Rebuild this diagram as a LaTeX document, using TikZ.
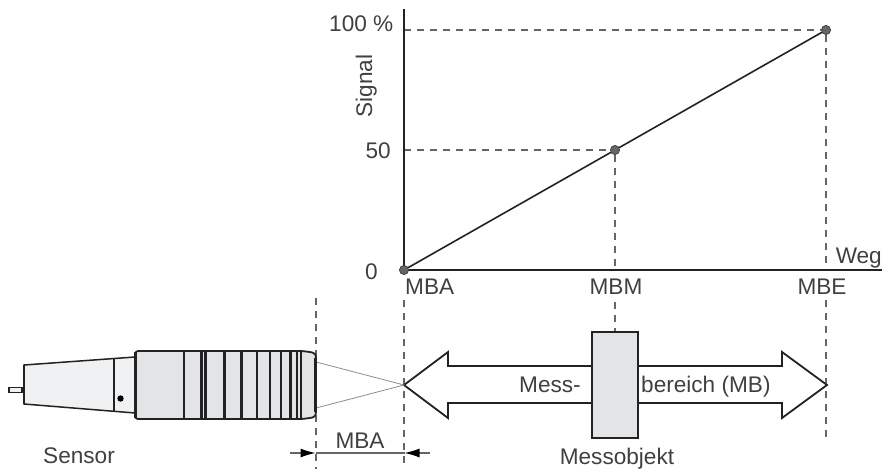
\documentclass[tikz,border=0pt]{standalone}
\usepackage{fontspec}
\setmainfont{Liberation Sans}
\usetikzlibrary{arrows.meta}
\definecolor{txt}{HTML}{404040}
\definecolor{ink}{HTML}{222222}
\definecolor{dashc}{HTML}{666666}
\definecolor{bodyfill}{HTML}{E3E4E5}
\definecolor{rearfill}{HTML}{F0F1F2}
\tikzset{
  lab/.style={inner sep=0pt,text=txt,font=\fontsize{22.6}{26}\selectfont},
  axisline/.style={draw=ink,line width=1.6pt},
  guide/.style={draw=dashc,line width=1.25pt,dash pattern=on 7pt off 6pt},
  pointdot/.style={circle,fill=black!60,draw=black!75,line width=.6pt,minimum size=9pt,inner sep=0pt},
  ring/.style={draw=ink},
  outline/.style={draw=ink,line width=1.8pt},
  beam/.style={draw=black!45,line width=.8pt},
  dimarrow/.style={draw=black!60,line width=1.1pt},
  dimtip/.style={-{Latex[length=15pt,width=9pt,black]}},
}
\begin{document}
\begin{tikzpicture}[x=1pt,y=-1pt]
\useasboundingbox (0,0) rectangle (883,469);
% named points
\coordinate (origin) at (404,270);
\coordinate (ytop) at (404,9);
\coordinate (xend) at (882,270);
\node[pointdot] (pA) at (404,270) {};
\node[pointdot] (pM) at (615,150) {};
\node[pointdot] (pE) at (826,30) {};
\coordinate (y100) at (404,30);
\coordinate (y50) at (404,150);
\coordinate (xM) at (615,270);
\coordinate (xE) at (826,270);
% guides
\draw[guide] (y100) -- (pE);
\draw[guide] (y50) -- (pM);
\draw[guide] (pM) -- (xM);
\draw[guide] (pE) -- (xE);
\coordinate (gS1) at (316,298); \coordinate (gS2) at (316,469);
\coordinate (gA1) at (404,300); \coordinate (gA2) at (404,469);
\coordinate (gM1) at (615,302); \coordinate (gM2) at (615,445);
\coordinate (gE1) at (826,300); \coordinate (gE2) at (826,442);
\draw[guide] (gS1) -- (gS2);
\draw[guide] (gA1) -- (gA2);
\draw[guide] (gM1) -- (gM2);
\draw[guide] (gE1) -- (gE2);
% axes and curve
\draw[axisline] (ytop) -- (origin) -- (xend);
\draw[axisline] (pA) -- (pM) -- (pE);
\node[pointdot] at (pA) {};
\node[pointdot] at (pM) {};
\node[pointdot] at (pE) {};
% axis labels
\node[lab,anchor=base east] (l100) at (393.5,31) {100 \%};
\node[lab,anchor=base east] (l50) at (391,158) {50};
\node[lab,anchor=base east] (l0) at (378,279) {0};
\node[lab,anchor=base,rotate=90] (lsig) at (372,86) {Signal};
\node[lab,anchor=base west] (lmba) at (405,294) {MBA};
\node[lab,anchor=base] (lmbm) at (616,294) {MBM};
\node[lab,anchor=base] (lmbe) at (822,294) {MBE};
\node[lab,anchor=base east] (lweg) at (882,263) {Weg};
% double arrow
\draw[outline,fill=white] (404,385) -- (448,352) -- (448,366) -- (782,366) -- (782,352) -- (827,385) -- (782,418) -- (782,403) -- (448,403) -- (448,418) -- cycle;
\node[lab,anchor=base west] (lmess) at (519,392) {Mess-};
\node[lab,anchor=base west] (lber) at (641,392) {bereich (MB)};
\node[draw=ink,line width=1.2pt,fill=bodyfill,minimum width=46pt,minimum height=106pt,inner sep=0pt] (obj) at (615,385) {};
\node[lab,anchor=base] (lobj) at (617,464) {Messobjekt};
% beams
\coordinate (tip) at (404,385);
\coordinate (b1) at (316,362);
\coordinate (b2) at (316,408);
\draw[beam] (b1) -- (tip) -- (b2);
% sensor rear
\draw[draw=ink,line width=1.2pt,fill=rearfill] (9,387.5) rectangle (22,392.5);
\draw[draw=ink,line width=1.5pt,fill=rearfill] (24,365) -- (135,357) -- (135,413) -- (24,404) -- cycle;
\draw[draw=ink,line width=2.5pt] (24,365) -- (24,404);
\draw[draw=ink,line width=1.3pt] (114,358.5) -- (114,411.5);
\fill[black] (120.5,398.5) circle (3.2pt);
% sensor body
\draw[draw=ink,line width=1.8pt,fill=bodyfill,rounded corners=2.5pt] (135.5,351) -- (302,351) -- (310,352) .. controls (315,353) and (316,355) .. (316,360) -- (316,410) .. controls (316,415) and (315,417) .. (310,418) -- (302,419) -- (135.5,419) -- cycle;
\draw[draw=ink,line width=3.5pt] (135.5,352) -- (135.5,418);
\draw[draw=ink,line width=2.8pt] (315.5,358) -- (315.5,412);
\foreach \rx/\rw in {184/2.6, 201.7/2.6, 205.3/2.8, 224.7/3, 241.7/2.6, 257/2.8, 270/2.6, 281/2.6, 290.5/2.4, 296.7/2.2, 301/2.2}{
  \draw[ring,line width=\rw pt] (\rx,351.5) -- (\rx,418.5);
}
\node[lab,anchor=base west] (lsens) at (43,463) {Sensor};
% MBA dimension
\node[lab,anchor=base] (ldim) at (360,448) {MBA};
\coordinate (dL0) at (290,453);
\coordinate (dL1) at (315.5,453);
\coordinate (dR0) at (430,453);
\coordinate (dR1) at (404.5,453);
\draw[dimarrow] (dL1) -- (dR1);
\draw[dimarrow,dimtip] (dL0) -- (dL1);
\draw[dimarrow,dimtip] (dR0) -- (dR1);
\end{tikzpicture}
\end{document}
